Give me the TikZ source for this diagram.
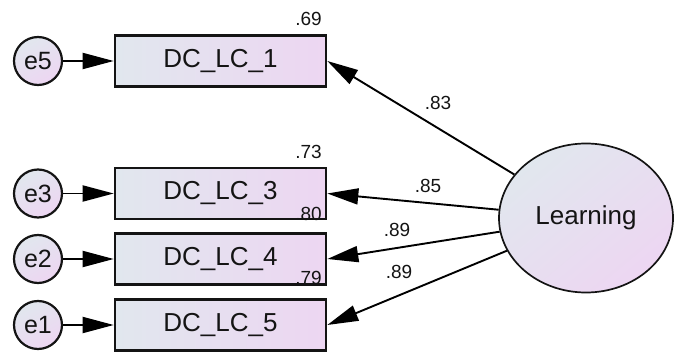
\documentclass[tikz,border=0pt]{standalone}
\usepackage{fontspec}
\setmainfont{Liberation Sans}
\usepackage{tikz}
\usetikzlibrary{shapes.geometric,arrows.meta}

\definecolor{FillL}{RGB}{225,231,238}
\definecolor{FillR}{RGB}{237,214,242}
\definecolor{InkGray}{RGB}{20,20,20}

\newcommand\indicator[3]{% item, error, y
  \node[ObsSty] at (220.5,#3) (lc#1) {DC\_LC\_#1};
  \node[ErrSty] at (38,#3) (#2) {#2};
  \draw[PathSty] (#2) -- (lc#1);
}

\begin{document}
\begin{tikzpicture}[x=1pt,y=1pt]
		\tikzstyle{ObsSty}=[draw=InkGray, line width=2.6pt, minimum width=211pt,
				      minimum height=51pt, inner sep=0pt, left color=FillL,
				      right color=FillR, text=InkGray, font=\fontsize{26}{26}\selectfont]
		\tikzstyle{ErrSty}=[circle, draw=InkGray, line width=2.2pt, minimum size=48pt,
				      inner sep=0pt, shading=axis, top color=FillL, bottom color=FillR,
				      shading angle=30, text=InkGray, font=\fontsize{25}{25}\selectfont]
		\tikzstyle{LatSty}=[ellipse, draw=InkGray, line width=1.7pt, minimum width=174pt,
				      minimum height=149pt, inner sep=0pt, shading=axis, top color=FillL,
				      bottom color=FillR, shading angle=40, text=InkGray,
				      font=\fontsize{26}{26}\selectfont]
		\tikzstyle{PathSty}=[-{Triangle[length=31pt,width=16pt]}, line width=1.9pt, color=black]
		\tikzstyle{EstSty}=[inner sep=0pt, text=InkGray, font=\fontsize{19}{19}\selectfont]

\useasboundingbox (0,0) rectangle (674,351);

% observed items with their error terms
\indicator{1}{e5}{290}
\indicator{3}{e3}{157.5}
\indicator{4}{e2}{92}
\indicator{5}{e1}{26}

\node[LatSty] at (586,133) (learn) {Learning};

% loadings
\foreach \i/\est/\lx/\ly in {1/.83/438/248, 3/.85/428/165, 4/.89/397/121, 5/.89/399/79}
{
  \draw[PathSty] (learn) -- (lc\i.east);
  \node[EstSty] at (\lx,\ly) (est\i) {\est};
}

% squared multiple correlations
\foreach \i/\rsq/\ly in {1/.69/332.5, 3/.73/199.5, 4/.80/137.5, 5/.79/73}
{
  \node[EstSty] at (308.5,\ly) (rsq\i) {\rsq};
}

\end{tikzpicture}
\end{document}
